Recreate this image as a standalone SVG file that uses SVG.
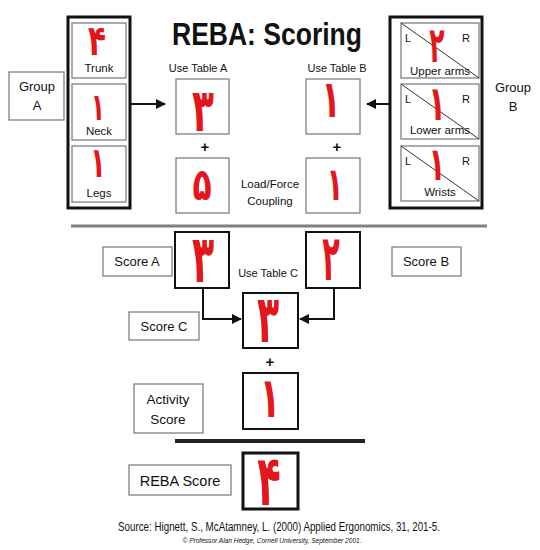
<svg xmlns="http://www.w3.org/2000/svg" width="540" height="550" viewBox="0 0 540 550">
<defs>
<style>
.lbl{font-family:"Liberation Sans",Arial,sans-serif;fill:#111;text-anchor:middle}
.thin{fill:#fff;stroke:#808080;stroke-width:1.3}
.val{fill:#fff;stroke:#111;stroke-width:2}
.grp{fill:none;stroke:#111;stroke-width:3}
.dig{font-family:"DejaVu Sans","Noto Sans",sans-serif;font-weight:bold;fill:#e3161b;text-anchor:middle}
.diag{stroke:#333;stroke-width:1}
.con{fill:none;stroke:#111;stroke-width:2}
</style>
<marker id="ah" viewBox="0 0 10 10" refX="9" refY="5" markerWidth="5" markerHeight="5" orient="auto" markerUnits="strokeWidth">
<path d="M0,0 L10,5 L0,10 z" fill="#111"/>
</marker>
</defs>
<rect width="540" height="550" fill="#fff"/>

<text x="267" y="45" class="lbl" font-size="31" font-weight="bold" textLength="190" lengthAdjust="spacingAndGlyphs">REBA: Scoring</text>

<g id="groupA-label">
<rect x="9" y="72" width="55" height="48" class="thin"/>
<text x="37" y="91" class="lbl" font-size="13">Group</text>
<text x="37" y="110" class="lbl" font-size="13">A</text>
</g>

<g id="groupA">
<rect x="68" y="17" width="62" height="191" class="grp"/>
<g id="trunk">
<rect x="72" y="23" width="54" height="55" class="thin"/>
<text transform="translate(97,55) scale(0.7,1)" class="dig" font-size="42">۴</text>
<text x="99" y="72" class="lbl" font-size="11.5">Trunk</text>
</g>
<g id="neck">
<rect x="72" y="84" width="54" height="56" class="thin"/>
<text transform="translate(98,120) scale(0.6,1)" class="dig" font-size="38">۱</text>
<text x="99" y="135" class="lbl" font-size="11.5">Neck</text>
</g>
<g id="legs">
<rect x="72" y="146" width="54" height="56" class="thin"/>
<text transform="translate(98,177) scale(0.6,1)" class="dig" font-size="42">۱</text>
<text x="99" y="197" class="lbl" font-size="11.5">Legs</text>
</g>
</g>

<g id="tableA">
<text x="198" y="72" class="lbl" font-size="11">Use Table A</text>
<rect x="176" y="79" width="53" height="55" class="thin"/>
<text transform="translate(203,131) scale(0.6,1)" class="dig" font-size="60">۳</text>
</g>
<text x="205" y="152" class="lbl" font-size="15" font-weight="bold">+</text>
<g id="loadA">
<rect x="176" y="158" width="53" height="55" class="thin"/>
<text transform="translate(202,200) scale(0.7,1)" class="dig" font-size="45">۵</text>
</g>

<g id="loadLabel">
<text x="270" y="188" class="lbl" font-size="11.5">Load/Force</text>
<text x="270" y="205" class="lbl" font-size="11.5">Coupling</text>
</g>

<g id="tableB">
<text x="337" y="72" class="lbl" font-size="11">Use Table B</text>
<rect x="306" y="79" width="54" height="55" class="thin"/>
<text transform="translate(331,117) scale(0.6,1)" class="dig" font-size="52">۱</text>
</g>
<text x="337" y="152" class="lbl" font-size="15" font-weight="bold">+</text>
<g id="loadB">
<rect x="306" y="158" width="54" height="55" class="thin"/>
<text transform="translate(335,200) scale(0.6,1)" class="dig" font-size="46">۱</text>
</g>

<g id="groupB">
<rect x="390" y="17" width="92" height="191" class="grp"/>
<g id="upperArms">
<rect x="401" y="23" width="78" height="55" class="thin"/>
<line x1="401" y1="23" x2="479" y2="78" class="diag"/>
<text x="408" y="42" class="lbl" font-size="11">L</text>
<text x="466" y="42" class="lbl" font-size="11">R</text>
<text transform="translate(437,62) scale(0.5,1)" class="dig" font-size="50">۲</text>
<text x="440" y="75" class="lbl" font-size="11.5">Upper arms</text>
</g>
<g id="lowerArms">
<rect x="401" y="84" width="78" height="55" class="thin"/>
<line x1="401" y1="84" x2="479" y2="139" class="diag"/>
<text x="408" y="103" class="lbl" font-size="11">L</text>
<text x="466" y="103" class="lbl" font-size="11">R</text>
<text transform="translate(437,120) scale(0.6,1)" class="dig" font-size="48">۱</text>
<text x="440" y="134" class="lbl" font-size="11.5">Lower arms</text>
</g>
<g id="wrists">
<rect x="401" y="146" width="78" height="55" class="thin"/>
<line x1="401" y1="146" x2="479" y2="201" class="diag"/>
<text x="408" y="165" class="lbl" font-size="11">L</text>
<text x="466" y="165" class="lbl" font-size="11">R</text>
<text transform="translate(437,180) scale(0.6,1)" class="dig" font-size="46">۱</text>
<text x="440" y="196" class="lbl" font-size="11.5">Wrists</text>
</g>
</g>

<g id="groupB-label">
<text x="513" y="92" class="lbl" font-size="13">Group</text>
<text x="513" y="111" class="lbl" font-size="13">B</text>
</g>

<line x1="71" y1="226" x2="487" y2="226" stroke="#808080" stroke-width="3"/>

<g id="scoreA-label">
<rect x="103" y="247" width="69" height="29" class="thin"/>
<text x="137" y="266" class="lbl" font-size="13">Score A</text>
</g>
<g id="scoreA">
<rect x="175" y="232" width="54" height="56" class="val"/>
<text transform="translate(203,282) scale(0.55,1)" class="dig" font-size="66">۳</text>
</g>
<text x="268" y="277" class="lbl" font-size="11">Use Table C</text>
<g id="scoreB">
<rect x="306" y="232" width="54" height="56" class="val"/>
<text transform="translate(331,280) scale(0.45,1)" class="dig" font-size="64">۲</text>
</g>
<g id="scoreB-label">
<rect x="392" y="247" width="69" height="29" class="thin"/>
<text x="426" y="266" class="lbl" font-size="13">Score B</text>
</g>

<g id="scoreC-label">
<rect x="129" y="312" width="70" height="28" class="thin"/>
<text x="164" y="331" class="lbl" font-size="13">Score C</text>
</g>
<g id="scoreC">
<rect x="243" y="293" width="55" height="55" class="val"/>
<text transform="translate(268,342) scale(0.55,1)" class="dig" font-size="66">۳</text>
</g>
<text x="270" y="367" class="lbl" font-size="15" font-weight="bold">+</text>

<g id="activity-label">
<rect x="134" y="384" width="69" height="49" class="thin"/>
<text x="168" y="404" class="lbl" font-size="13.5">Activity</text>
<text x="168" y="424" class="lbl" font-size="13.5">Score</text>
</g>
<g id="activity">
<rect x="243" y="373" width="55" height="56" class="val"/>
<text transform="translate(270,417) scale(0.6,1)" class="dig" font-size="56">۱</text>
</g>

<line x1="175" y1="441" x2="365" y2="441" stroke="#222" stroke-width="4"/>

<g id="rebaScore-label">
<rect x="129" y="465" width="102" height="30" class="thin"/>
<text x="180" y="486" class="lbl" font-size="14.5">REBA Score</text>
</g>
<g id="rebaScore">
<rect x="243" y="453" width="55" height="56" fill="#fff" stroke="#111" stroke-width="3"/>
<text transform="translate(269,505) scale(0.55,1)" class="dig" font-size="70">۴</text>
</g>

<g id="connectors">
<line x1="130" y1="104" x2="165" y2="104" class="con" marker-end="url(#ah)"/>
<line x1="389" y1="104" x2="367" y2="104" class="con" marker-end="url(#ah)"/>
<polyline points="203,288 203,319 241,319" class="con" marker-end="url(#ah)"/>
<polyline points="334,288 334,319 300,319" class="con" marker-end="url(#ah)"/>
</g>

<text x="279" y="531" class="lbl" font-size="12" textLength="322" lengthAdjust="spacingAndGlyphs">Source: Hignett, S., McAtamney, L. (2000) Applied Ergonomics, 31, 201-5.</text>
<text x="272" y="543" class="lbl" font-size="7" font-style="italic" textLength="179" lengthAdjust="spacingAndGlyphs">© Professor Alan Hedge, Cornell University, September 2001.</text>
</svg>
